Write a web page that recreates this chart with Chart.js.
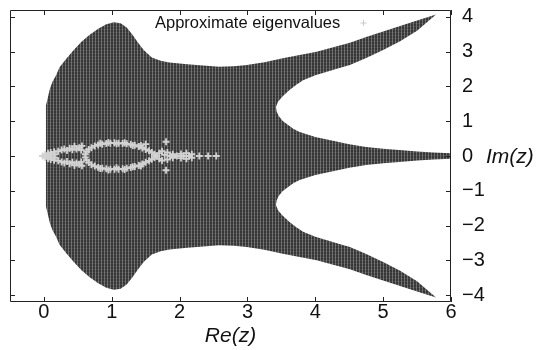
<!DOCTYPE html>
<html>
<head>
<meta charset="utf-8">
<script src="https://cdn.jsdelivr.net/npm/chart.js@4.4.1/dist/chart.umd.min.js"></script>
<style>
  html, body { margin: 0; padding: 0; background: #fff; }
  #plot { display: block; }
</style>
</head>
<body>
<canvas id="plot" width="543" height="350"></canvas>
<script>
const X_TICKS = [0, 1, 2, 3, 4, 5, 6]
const Y_TICKS = [-4, -3, -2, -1, 0, 1, 2, 3, 4]
const Y_TICK_LABELS = ['−4', '−3', '−2', '−1', '0', '1', '2', '3', '4']

// upper outer edge of the region, left side to the tip of the upper branch
const OUTER_X = [0.03, 0.03, 0.06, 0.09, 0.13, 0.18, 0.23, 0.33, 0.43, 0.55, 0.67, 0.80, 0.92, 1.03, 1.13, 1.22, 1.30, 1.38, 1.47, 1.59, 1.72, 1.85, 2.11, 2.35, 2.58, 2.80, 2.99, 3.25, 3.52, 3.75, 4.02, 4.25, 4.51, 4.75, 5.00, 5.25, 5.50, 5.78]
const OUTER_Y = [0.00, 1.45, 1.70, 1.95, 2.15, 2.32, 2.55, 2.80, 3.03, 3.28, 3.48, 3.66, 3.79, 3.85, 3.82, 3.70, 3.50, 3.28, 3.05, 2.83, 2.74, 2.69, 2.64, 2.60, 2.57, 2.58, 2.62, 2.70, 2.81, 2.90, 3.00, 3.12, 3.26, 3.42, 3.58, 3.74, 3.90, 4.07]
// inner edge of the upper branch, tip back to the hole
const BRANCH_X = [5.50, 5.25, 5.00, 4.75, 4.51, 4.33, 4.16, 4.00, 3.82, 3.72, 3.62, 3.52, 3.45]
const BRANCH_Y = [3.60, 3.30, 3.05, 2.82, 2.62, 2.52, 2.42, 2.32, 2.18, 2.05, 1.90, 1.72, 1.56]
// upper edge of the middle tongue, hole apex out to Re = 6
const TONGUE_X = [3.42, 3.43, 3.46, 3.52, 3.60, 3.68, 3.77, 4.00, 4.26, 4.50, 4.75, 5.00, 5.24, 5.50, 5.74, 6.00]
const TONGUE_Y = [1.41, 1.28, 1.15, 1.01, 0.89, 0.78, 0.69, 0.55, 0.44, 0.34, 0.26, 0.21, 0.17, 0.13, 0.10, 0.08]

// approximate eigenvalues
const LENS_RE = [-0.02, 0.02, 0.02, 0.06, 0.06, 0.06, 0.10, 0.10, 0.11, 0.11, 0.15, 0.15, 0.16, 0.16, 0.21, 0.21, 0.26, 0.26, 0.30, 0.30, 0.34, 0.34, 0.38, 0.38, 0.42, 0.42, 0.45, 0.45, 0.48, 0.48, 0.52, 0.52, 0.55, 0.55, 0.56, 0.56]
const LENS_IM = [0.00, 0.04, -0.04, 0.08, -0.08, 0.00, 0.10, -0.10, 0.03, -0.03, 0.12, -0.12, 0.05, -0.05, 0.14, -0.14, 0.17, -0.17, 0.20, -0.20, 0.16, -0.16, 0.22, -0.22, 0.18, -0.18, 0.28, -0.27, 0.20, -0.20, 0.24, -0.24, 0.17, -0.17, 0.29, -0.28]
const LOOP_RE = [0.61, 0.63, 0.66, 0.70, 0.75, 0.80, 0.86, 0.92, 0.98, 1.04, 1.10, 1.16, 1.22, 1.28, 1.34, 1.40, 1.45, 1.50, 1.55, 1.59, 1.63, 0.83, 0.95, 1.07, 1.19, 1.31, 1.43, 1.50,
                 0.61, 0.63, 0.66, 0.70, 0.75, 0.80, 0.86, 0.92, 0.98, 1.04, 1.10, 1.16, 1.22, 1.28, 1.34, 1.40, 1.45, 1.50, 1.55, 1.59, 1.63, 0.83, 0.95, 1.07, 1.19, 1.31, 1.43]
const LOOP_IM = [0.05, 0.13, 0.19, 0.24, 0.29, 0.32, 0.34, 0.36, 0.37, 0.38, 0.37, 0.36, 0.35, 0.33, 0.31, 0.27, 0.23, 0.19, 0.15, 0.10, 0.05, 0.37, 0.39, 0.35, 0.38, 0.30, 0.30, 0.34,
                 -0.04, -0.12, -0.19, -0.25, -0.29, -0.33, -0.35, -0.37, -0.38, -0.38, -0.38, -0.37, -0.35, -0.33, -0.30, -0.27, -0.23, -0.18, -0.14, -0.09, -0.04, -0.36, -0.40, -0.34, -0.39, -0.31, -0.29]
const TAIL_RE = [1.66, 1.70, 1.70, 1.74, 1.74, 1.78, 1.80, 1.80, 1.82, 1.82, 1.86, 1.90, 1.90, 1.96, 2.02, 2.02, 2.06, 2.10, 2.10, 2.14, 2.18, 2.18, 2.29, 2.42, 2.54]
const TAIL_IM = [0.00, 0.08, -0.08, 0.14, -0.13, 0.03, 0.41, -0.41, 0.10, -0.10, 0.00, 0.05, -0.05, 0.00, 0.06, -0.06, 0.00, 0.08, -0.08, 0.00, 0.05, -0.05, 0.00, 0.00, 0.00]

const FONT = '"Liberation Sans", Arial, Helvetica, sans-serif'
const TICK_LEN = 5

function zip(xs, ys) {
    return xs.map((x, i) => ({ x: x, y: ys[i] }))
}

// outline of the region: upper half, then the mirrored lower half walked back
const upperHalf = zip(OUTER_X, OUTER_Y).concat(zip(BRANCH_X, BRANCH_Y), zip(TONGUE_X, TONGUE_Y))
const lowerHalf = upperHalf.slice().reverse().map(p => ({ x: p.x, y: -p.y }))
const regionPoints = upperHalf.concat(lowerHalf)

const eigPoints = zip(LENS_RE, LENS_IM).concat(zip(LOOP_RE, LOOP_IM), zip(TAIL_RE, TAIL_IM))

function makeHatch() {
    const c = document.createElement('canvas')
    c.width = 3
    c.height = 3
    const g = c.getContext('2d')
    g.fillStyle = '#363636'
    g.fillRect(0, 0, 3, 3)
    g.fillStyle = '#474747'
    g.fillRect(0, 2, 3, 1)
    g.fillStyle = '#6c6c6c'
    g.fillRect(2, 0, 1, 3)
    g.fillStyle = '#777777'
    g.fillRect(2, 2, 1, 1)
    return g.createPattern(c, 'repeat')
}

// gnuplot style box: frame, inward ticks on all four sides, key and Im(z) label
const frameTicks = {
    id: 'frameTicks',
    afterDatasetsDraw(chart) {
        const { ctx, chartArea: a, scales: { x, y } } = chart
        ctx.save()
        ctx.strokeStyle = '#222'
        ctx.lineWidth = 1
        ctx.beginPath()
        ctx.rect(a.left + 0.5, a.top + 0.5, a.right - a.left - 1, a.bottom - a.top - 1)
        X_TICKS.forEach(v => {
            const px = Math.round(x.getPixelForValue(v)) + 0.5
            ctx.moveTo(px, a.bottom)
            ctx.lineTo(px, a.bottom - TICK_LEN)
            ctx.moveTo(px, a.top)
            ctx.lineTo(px, a.top + TICK_LEN)
        })
        Y_TICKS.forEach(v => {
            const py = Math.round(y.getPixelForValue(v)) + 0.5
            ctx.moveTo(a.left, py)
            ctx.lineTo(a.left + TICK_LEN, py)
            ctx.moveTo(a.right, py)
            ctx.lineTo(a.right - TICK_LEN, py)
        })
        ctx.stroke()

        ctx.fillStyle = '#111'
        ctx.textAlign = 'left'
        ctx.textBaseline = 'middle'
        ctx.font = 'italic 21px ' + FONT
        ctx.fillText('Im(z)', a.right + 35, y.getPixelForValue(0) + 1)

        ctx.font = '16.5px ' + FONT
        ctx.fillText('Approximate eigenvalues', 155, 23)
        ctx.strokeStyle = '#c8c8c8'
        ctx.beginPath()
        ctx.moveTo(360.5, 23)
        ctx.lineTo(366.5, 23)
        ctx.moveTo(363.5, 20)
        ctx.lineTo(363.5, 26)
        ctx.stroke()
        ctx.restore()
    }
}

new Chart(document.getElementById('plot'), {
    type: 'scatter',
    data: {
        datasets: [{
            label: 'Approximate eigenvalues',
            data: eigPoints,
            pointStyle: 'cross',
            pointRadius: 3.5,
            borderColor: '#d2d2d2',
            borderWidth: 1.8,
            order: 0
        }, {
            label: 'region',
            data: regionPoints,
            showLine: true,
            fill: 'shape',
            backgroundColor: makeHatch(),
            borderWidth: 0,
            pointRadius: 0,
            tension: 0,
            order: 1
        }]
    },
    options: {
        responsive: false,
        animation: false,
        devicePixelRatio: 1,
        layout: { padding: { left: 10, top: 10, right: 0, bottom: 0 } },
        plugins: {
            legend: { display: false },
            tooltip: { enabled: false }
        },
        scales: {
            x: {
                type: 'linear',
                position: 'bottom',
                min: -0.5,
                max: 6,
                afterBuildTicks: s => { s.ticks = X_TICKS.map(v => ({ value: v })) },
                afterFit: s => {
                    s.height = 48
                    s.paddingLeft = 0
                    s.paddingRight = 0
                },
                grid: { display: false, drawTicks: false },
                border: { display: false },
                ticks: { font: { family: FONT, size: 20 }, color: '#111', padding: -2, maxRotation: 0 },
                title: {
                    display: true,
                    text: 'Re(z)',
                    font: { family: FONT, size: 21, style: 'italic' },
                    color: '#111',
                    padding: { top: 0, bottom: 1 }
                }
            },
            y: {
                type: 'linear',
                position: 'right',
                min: -4.2,
                max: 4.2,
                afterBuildTicks: s => { s.ticks = Y_TICKS.map(v => ({ value: v })) },
                afterFit: s => {
                    s.width = 92
                    s.paddingTop = 0
                    s.paddingBottom = 0
                },
                grid: { display: false, drawTicks: false },
                border: { display: false },
                ticks: {
                    font: { family: FONT, size: 20 },
                    color: '#111',
                    padding: 11,
                    callback: v => Y_TICK_LABELS[Y_TICKS.indexOf(v)]
                }
            }
        }
    },
    plugins: [frameTicks]
})
</script>
</body>
</html>
